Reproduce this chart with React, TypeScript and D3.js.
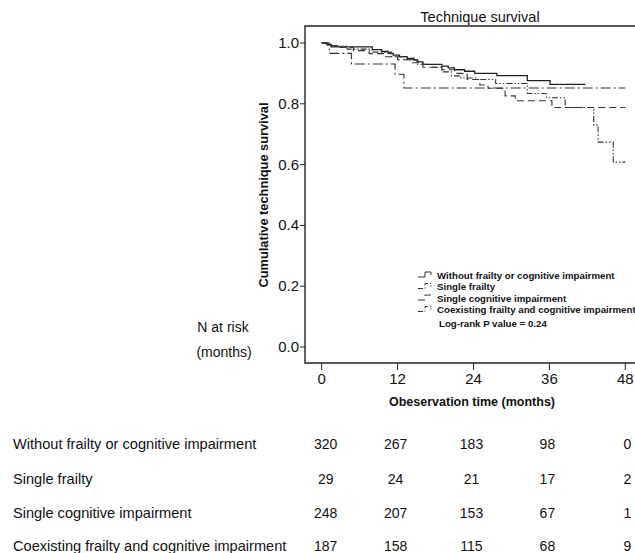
import React from "react";
import * as d3 from "d3";

const title = "Technique survival";
const xLabel = "Obeservation time (months)";
const yLabel = "Cumulative technique survival";
const xTicks = [0, 12, 24, 36, 48];
const yTicks = [0.0, 0.2, 0.4, 0.6, 0.8, 1.0];

const groupNames = [
  "Without frailty or cognitive impairment",
  "Single frailty",
  "Single cognitive impairment",
  "Coexisting frailty and cognitive impairment",
];

// Kaplan-Meier steps: [month, survival]
const withoutCurve: [number, number][] = [
  [0, 1.0], [0.8, 0.995], [1.5, 0.987], [8, 0.978], [9.5, 0.972], [10.5, 0.966],
  [11.3, 0.96], [12.3, 0.955], [13.5, 0.949], [14.6, 0.944], [15.2, 0.938],
  [16, 0.93], [19, 0.924], [20, 0.918], [21, 0.912], [22.6, 0.907], [24.2, 0.9],
  [27.7, 0.893], [32.5, 0.876], [36.1, 0.864], [41.7, 0.864],
];
const frailtyCurve: [number, number][] = [
  [0, 1.0], [1.2, 0.966], [4.7, 0.931], [11.6, 0.897], [13, 0.852], [48, 0.852],
];
const cognitiveCurve: [number, number][] = [
  [0, 1.0], [1, 0.992], [3, 0.985], [5, 0.975], [7.5, 0.965], [10, 0.955],
  [12, 0.945], [14, 0.935], [16, 0.92], [19, 0.912], [21, 0.9], [23, 0.88],
  [25, 0.862], [26.3, 0.851], [29, 0.826], [30.6, 0.81], [36.4, 0.788], [48, 0.788],
];
const coexistCurve: [number, number][] = [
  [0, 1.0], [1, 0.99], [4, 0.98], [8, 0.97], [11, 0.955], [13, 0.945], [15, 0.93],
  [17.5, 0.92], [19, 0.905], [20.5, 0.892], [22, 0.885], [24.5, 0.88],
  [27.5, 0.867], [32.5, 0.834], [35.5, 0.82], [38.5, 0.788], [43, 0.73],
  [43.7, 0.674], [46.1, 0.608], [48, 0.608],
];

const riskWithout = [320, 267, 183, 98, 0];
const riskFrailty = [29, 24, 21, 17, 2];
const riskCognitive = [248, 207, 153, 67, 1];
const riskCoexist = [187, 158, 115, 68, 9];

const curves = [withoutCurve, frailtyCurve, cognitiveCurve, coexistCurve];
const risks = [riskWithout, riskFrailty, riskCognitive, riskCoexist];
const dashes = ["", "10,3,2,3", "7,4", "6,2,1.5,2,1.5,2"];

const FONT = "'Liberation Sans', Arial, Helvetica, sans-serif";

export default function App() {
  const W = 635, H = 553;
  const x = d3.scaleLinear().domain([0, 48]).range([321.7, 625.3]);
  const y = d3.scaleLinear().domain([0, 1]).range([347, 43]);
  const frame = { left: 305, top: 26, bottom: 363, right: 640 };

  const line = d3
    .line<[number, number]>()
    .x((d) => x(d[0]))
    .y((d) => y(d[1]))
    .curve(d3.curveStepAfter);

  const legendY = [275, 286.5, 298, 309.5];
  const rowY = [444, 478.5, 513, 546];

  return (
    <svg
      width={W}
      height={H}
      style={{ position: "absolute", left: 0, top: 0, background: "#fff" }}
      fontFamily={FONT}
    >
      <rect x={0} y={0} width={W} height={H} fill="#fff" />
      <text x={480} y={22} textAnchor="middle" fontSize={14.5} fill="#111">
        {title}
      </text>
      {/* frame */}
      <path
        d={`M${frame.right},${frame.top}H${frame.left}V${frame.bottom}H${frame.right}`}
        fill="none"
        stroke="#222"
        strokeWidth={1.4}
      />
      {/* y ticks */}
      {yTicks.map((t) => (
        <g key={"y" + t}>
          <line x1={frame.left - 5} x2={frame.left} y1={y(t)} y2={y(t)} stroke="#222" />
          <text x={299} y={y(t) + 5} textAnchor="end" fontSize={15} fill="#111">
            {t.toFixed(1)}
          </text>
        </g>
      ))}
      {/* x ticks */}
      {xTicks.map((t) => (
        <g key={"x" + t}>
          <line x1={x(t)} x2={x(t)} y1={frame.bottom} y2={frame.bottom + 7} stroke="#222" />
          <text x={x(t)} y={384} textAnchor="middle" fontSize={15} fill="#111">
            {t}
          </text>
        </g>
      ))}
      <text x={472} y={406} textAnchor="middle" fontSize={12.5} fontWeight="bold" fill="#111">
        {xLabel}
      </text>
      <text
        transform={`translate(268,195) rotate(-90)`}
        textAnchor="middle"
        fontSize={12.8}
        fontWeight="bold"
        fill="#111"
      >
        {yLabel}
      </text>
      {/* curves */}
      {curves.map((c, i) => (
        <path
          key={"c" + i}
          d={line(c) || ""}
          fill="none"
          stroke={i === 0 ? "#222" : "#333"}
          strokeWidth={i === 0 ? 1.3 : 1.1}
          strokeDasharray={dashes[i]}
        />
      ))}
      {/* legend */}
      {groupNames.map((g, i) => (
        <g key={"l" + i}>
          <path
            d={`M418,${legendY[i] + 2}H425V${legendY[i] - 3}H431V${legendY[i]}`}
            fill="none"
            stroke="#333"
            strokeWidth={1}
            strokeDasharray={i === 0 ? "" : i === 2 ? "7,4" : "5,2,1,2"}
          />
          <text x={437} y={legendY[i] + 3.5} fontSize={9.7} fontWeight="bold" fill="#111">
            {g}
          </text>
        </g>
      ))}
      <text x={439} y={326.5} fontSize={9.7} fontWeight="bold" fill="#111">
        Log-rank P value = 0.24
      </text>
      {/* N at risk */}
      <text x={223} y={332} textAnchor="middle" fontSize={14} fill="#111">
        N at risk
      </text>
      <text x={224} y={357} textAnchor="middle" fontSize={14} fill="#111">
        (months)
      </text>
      {groupNames.map((g, i) => (
        <g key={"r" + i}>
          <text x={13} y={rowY[i] + 5} fontSize={14.6} fill="#111">
            {g}
          </text>
          {risks[i].map((n, j) => (
            <text
              key={j}
              x={x(xTicks[j]) + (j === 0 ? 4 : j === 4 ? 2 : -2)}
              y={rowY[i] + 5}
              textAnchor="middle"
              fontSize={14}
              fill="#111"
            >
              {n}
            </text>
          ))}
        </g>
      ))}
    </svg>
  );
}
